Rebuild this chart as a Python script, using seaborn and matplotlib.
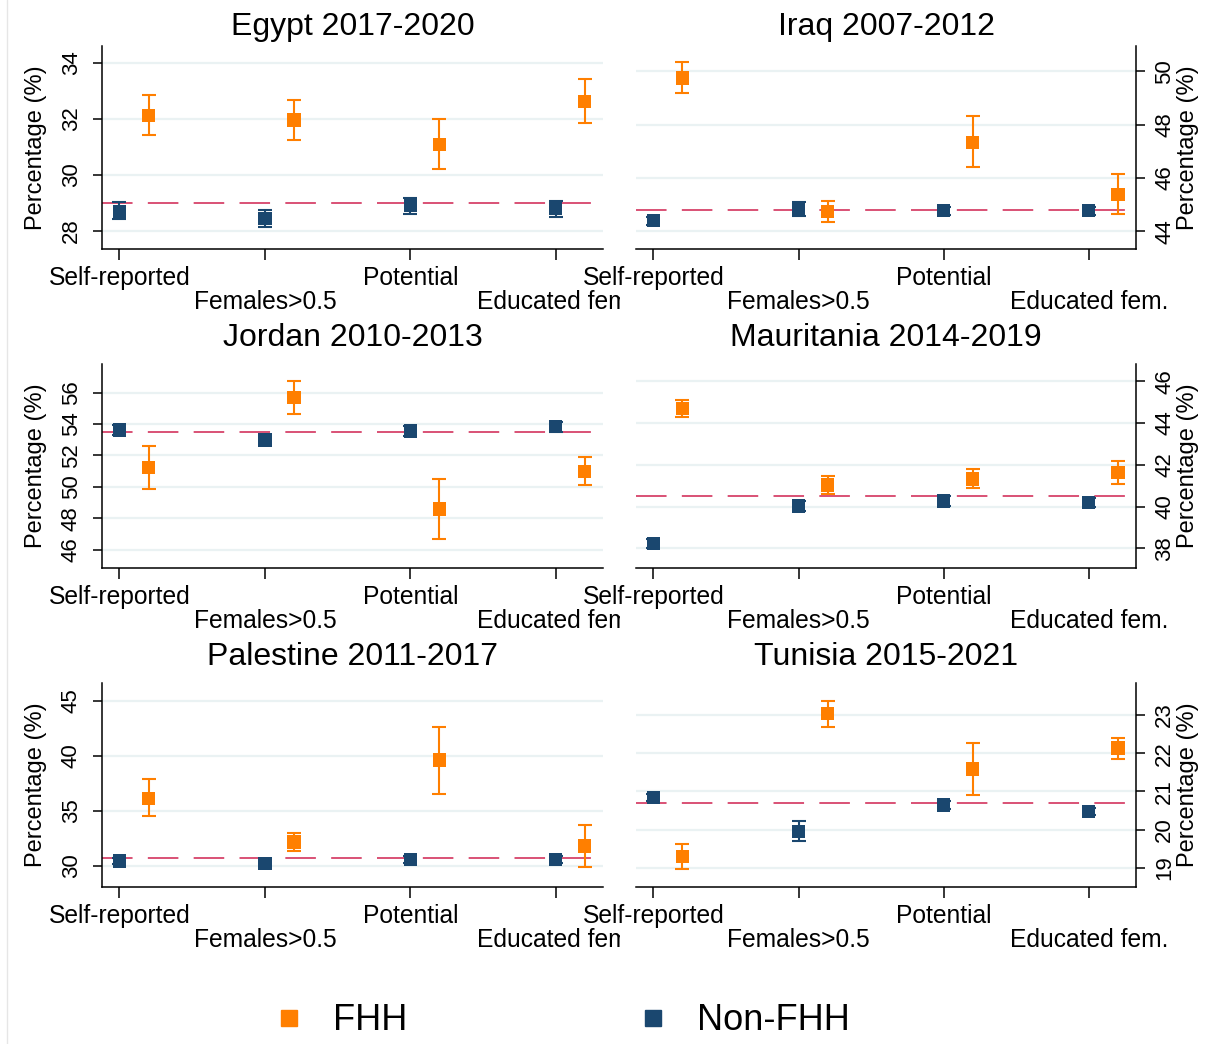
import matplotlib

matplotlib.use("Agg")
import matplotlib.pyplot as plt
import matplotlib.transforms as mtransforms
from matplotlib.lines import Line2D
import pandas as pd
import seaborn as sns

# 六个国家面板：FHH / Non-FHH 的均值与置信区间
categories = ["Self-reported", "Females>0.5", "Potential", "Educated fem."]
groups = ["FHH", "Non-FHH"]
panel_names = ["Egypt 2017-2020", "Iraq 2007-2012", "Jordan 2010-2013",
               "Mauritania 2014-2019", "Palestine 2011-2017", "Tunisia 2015-2021"]

egypt_fhh = [32.12, 31.96, 31.09, 32.63]
egypt_fhh_lo = [31.41, 31.26, 30.23, 31.84]
egypt_fhh_hi = [32.86, 32.69, 31.98, 33.44]
egypt_non = [28.69, 28.44, 28.93, 28.80]
egypt_non_lo = [28.42, 28.15, 28.62, 28.50]
egypt_non_hi = [29.03, 28.75, 29.18, 29.06]
egypt_ref = 29.0

iraq_fhh = [49.75, 44.75, 47.34, 45.39]
iraq_fhh_lo = [49.19, 44.34, 46.41, 44.65]
iraq_fhh_hi = [50.34, 45.15, 48.31, 46.14]
iraq_non = [44.40, 44.85, 44.78, 44.78]
iraq_non_lo = [44.25, 44.59, 44.63, 44.63]
iraq_non_hi = [44.55, 45.11, 44.93, 44.93]
iraq_ref = 44.79

jordan_fhh = [51.23, 55.70, 48.60, 50.96]
jordan_fhh_lo = [49.85, 54.64, 46.70, 50.09]
jordan_fhh_hi = [52.62, 56.72, 50.53, 51.91]
jordan_non = [53.62, 52.98, 53.57, 53.83]
jordan_non_lo = [53.30, 52.65, 53.25, 53.50]
jordan_non_hi = [53.94, 53.30, 53.90, 54.15]
jordan_ref = 53.47

maur_fhh = [44.69, 41.04, 41.33, 41.62]
maur_fhh_lo = [44.30, 40.62, 40.88, 41.07]
maur_fhh_hi = [45.12, 41.49, 41.81, 42.18]
maur_non = [38.24, 40.03, 40.27, 40.19]
maur_non_lo = [38.02, 39.80, 40.05, 39.98]
maur_non_hi = [38.46, 40.26, 40.49, 40.40]
maur_ref = 40.51

pal_fhh = [36.12, 32.15, 39.61, 31.79]
pal_fhh_lo = [34.48, 31.30, 36.52, 29.85]
pal_fhh_hi = [37.85, 33.00, 42.64, 33.70]
pal_non = [30.42, 30.18, 30.58, 30.58]
pal_non_lo = [30.12, 29.88, 30.25, 30.28]
pal_non_hi = [30.72, 30.48, 30.91, 30.88]
pal_ref = 30.70

tun_fhh = [19.29, 23.05, 21.59, 22.14]
tun_fhh_lo = [18.97, 22.70, 20.92, 21.85]
tun_fhh_hi = [19.62, 23.38, 22.26, 22.39]
tun_non = [20.85, 19.96, 20.65, 20.48]
tun_non_lo = [20.76, 19.70, 20.55, 20.38]
tun_non_hi = [20.94, 20.22, 20.75, 20.58]
tun_ref = 20.70

yticks_list = [[28, 30, 32, 34], [44, 46, 48, 50], [46, 48, 50, 52, 54, 56],
               [38, 40, 42, 44, 46], [30, 35, 40, 45], [19, 20, 21, 22, 23]]
ylims_list = [(27.36, 34.6), (43.34, 50.95), (44.83, 57.83),
              (37.06, 46.83), (28.06, 46.6), (18.50, 23.84)]

panel_data = [
    (egypt_fhh, egypt_fhh_lo, egypt_fhh_hi, egypt_non, egypt_non_lo, egypt_non_hi, egypt_ref),
    (iraq_fhh, iraq_fhh_lo, iraq_fhh_hi, iraq_non, iraq_non_lo, iraq_non_hi, iraq_ref),
    (jordan_fhh, jordan_fhh_lo, jordan_fhh_hi, jordan_non, jordan_non_lo, jordan_non_hi, jordan_ref),
    (maur_fhh, maur_fhh_lo, maur_fhh_hi, maur_non, maur_non_lo, maur_non_hi, maur_ref),
    (pal_fhh, pal_fhh_lo, pal_fhh_hi, pal_non, pal_non_lo, pal_non_hi, pal_ref),
    (tun_fhh, tun_fhh_lo, tun_fhh_hi, tun_non, tun_non_lo, tun_non_hi, tun_ref),
]

palette = {"FHH": "#FF7F00", "Non-FHH": "#1A476F"}
offsets = {"FHH": 0.2, "Non-FHH": 0.0}
ref_color = "#CF2250"
grid_color = "#EAF2F3"

sns.set_theme(style="white", rc={"text.color": "black", "axes.labelcolor": "black",
                                 "xtick.color": "black", "ytick.color": "black"})
plt.rcParams["font.family"] = ["Liberation Sans", "DejaVu Sans"]

W, H = 1206, 1044
fig = plt.figure(figsize=(W / 100, H / 100), dpi=100)

col_px = [(102, 603), (636, 1136)]
row_px = [(46, 249), (364, 568), (683, 887)]
title_pads = [8, 13, 13]

# 左列的 x 轴标签在子图边界处被截断（原图如此）
left_clip = mtransforms.TransformedBbox(
    mtransforms.Bbox.from_extents(0, 0, 620 / W, 1), fig.transFigure)

for i, name in enumerate(panel_names):
    r, c = divmod(i, 2)
    l, rr = col_px[c]
    t, b = row_px[r]
    ax = fig.add_axes([l / W, 1 - b / H, (rr - l) / W, (b - t) / H])

    fhh, fhh_lo, fhh_hi, non, non_lo, non_hi, ref = panel_data[i]
    df = pd.DataFrame({
        "category": categories * 2,
        "group": ["FHH"] * 4 + ["Non-FHH"] * 4,
        "mean": fhh + non,
        "lo": fhh_lo + non_lo,
        "hi": fhh_hi + non_hi,
    })
    df["x"] = df["category"].map({k: j for j, k in enumerate(categories)}) + df["group"].map(offsets)

    ax.axhline(ref, color=ref_color, lw=1.1, ls=(0, (20, 10)), zorder=1.5)
    for g in groups:
        d = df[df["group"] == g]
        ax.errorbar(d["x"], d["mean"], yerr=[d["mean"] - d["lo"], d["hi"] - d["mean"]],
                    fmt="none", ecolor=palette[g], elinewidth=1.5, capsize=4.8,
                    capthick=1.5, zorder=2)
    sns.scatterplot(data=df, x="x", y="mean", hue="group", palette=palette, marker="s",
                    s=92, linewidth=0, legend=False, ax=ax, zorder=3)

    ax.set_xlim(-0.12, 3.325)
    ax.set_ylim(*ylims_list[i])
    ax.set_yticks(yticks_list[i])
    ax.set_xticks(range(len(categories)))
    ax.set_xticklabels([cat if j % 2 == 0 else "\n" + cat for j, cat in enumerate(categories)])
    ax.set_xlabel("")
    ax.grid(axis="y", color=grid_color, lw=1.6)
    ax.grid(axis="x", visible=False)
    ax.set_axisbelow(True)
    ax.set_title(name, fontsize=23, pad=title_pads[r])

    ax.tick_params(axis="x", length=8, width=1.1, pad=4, labelsize=17.7, bottom=True)
    ax.tick_params(axis="y", length=6.5, width=1.1, labelsize=16, labelrotation=90)
    for sp in ax.spines.values():
        sp.set_color("black")
        sp.set_linewidth(1.1)
    ax.spines["top"].set_visible(False)

    if c == 0:
        ax.spines["right"].set_visible(False)
        ax.tick_params(axis="y", left=True, right=False, pad=8)
        ax.set_ylabel("Percentage (%)", fontsize=17)
        ax.yaxis.set_label_coords((47 - l) / (rr - l), 0.5)
        for lbl in ax.get_xticklabels():
            lbl.set_clip_box(left_clip)
            lbl.set_clip_on(True)
        for lbl in ax.get_yticklabels():
            lbl.set_ha("right")
            lbl.set_va("center")
            lbl.set_rotation_mode("default")
    else:
        ax.spines["left"].set_visible(False)
        ax.yaxis.tick_right()
        ax.yaxis.set_label_position("right")
        ax.tick_params(axis="y", left=False, right=True, pad=6.5)
        ax.set_ylabel("Percentage (%)", fontsize=17)
        ax.yaxis.set_label_coords((1177 - l) / (rr - l), 0.5)
        for lbl in ax.get_yticklabels():
            lbl.set_ha("left")
            lbl.set_va("center")
            lbl.set_rotation_mode("default")

    for lbl in ax.get_xticklabels():
        lbl.set_linespacing(1.02)

# 底部图例
handles = [Line2D([], [], marker="s", ls="none", color=palette[g], markersize=12) for g in groups]
fig.legend(handles, groups, loc="center left", bbox_to_anchor=(280 / W, 1 - 1021 / H),
           ncol=2, frameon=False, fontsize=26, borderpad=0, borderaxespad=0,
           handlelength=0.5, handletextpad=0.97, columnspacing=6.55)

# 原图左侧的浅灰竖线
fig.add_artist(Line2D([7 / W, 7 / W], [0, 1], color="#E6E6E6", lw=1))

fig.savefig("out.png", dpi=100)
plt.close(fig)
